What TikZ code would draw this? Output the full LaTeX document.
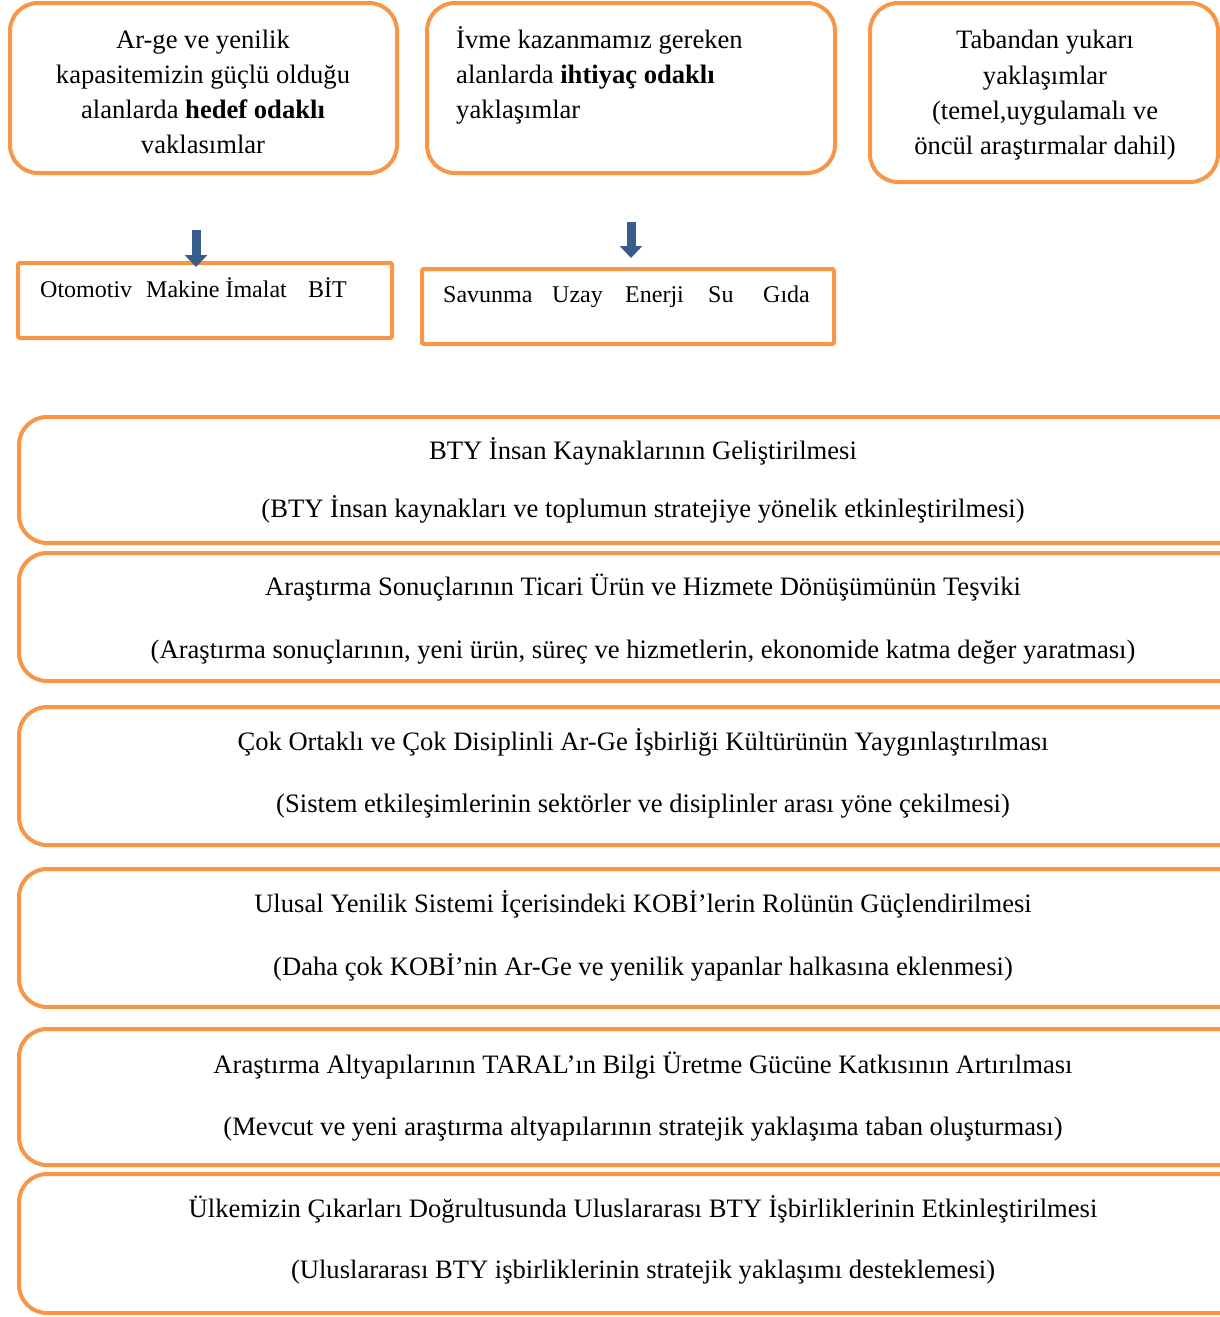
\documentclass[tikz,border=0pt]{standalone}
\usepackage{fontspec}
\setmainfont{Liberation Serif}
\usetikzlibrary{arrows.meta}
\definecolor{boxorange}{HTML}{F79646}
\definecolor{arrowblue}{HTML}{385D8A}
\begin{document}
\begin{tikzpicture}[x=1pt,y=-1pt,
  rbox/.style={draw=boxorange, line width=4pt, rounded corners=28pt, inner sep=0pt, outer sep=0pt, anchor=north west},
  sbox/.style={draw=boxorange, line width=4pt, rounded corners=2pt, inner sep=0pt, outer sep=0pt, anchor=north west},
  txt/.style={font=\fontsize{26.6}{35}\selectfont, inner sep=0pt, anchor=base},
  ltxt/.style={txt, anchor=base west},
  stxt/.style={font=\fontsize{24}{30}\selectfont, inner sep=0pt, anchor=base west},
  blockarrow/.style={line width=9pt, draw=arrowblue, -{Triangle[width=22pt,length=12pt]}}
]
\useasboundingbox (0,0) rectangle (1220,1317);

% top boxes
\node[rbox, minimum width=387pt, minimum height=170pt] (b1) at (10,3) {};
\node[rbox, minimum width=408pt, minimum height=170pt] (b2) at (427,3) {};
\node[rbox, minimum width=348pt, minimum height=179pt] (b3) at (870,3) {};

\node[txt] (t1a) at (203,48) {Ar-ge ve yenilik};
\node[txt] (t1b) at (203,83) {kapasitemizin güçlü olduğu};
\node[txt] (t1c) at (203,118) {alanlarda \textbf{hedef odaklı}};
\node[txt] (t1d) at (203,153) {vaklasımlar};

\node[ltxt] (t2a) at (456,48) {İvme kazanmamız gereken};
\node[ltxt] (t2b) at (456,83) {alanlarda \textbf{ihtiyaç odaklı}};
\node[ltxt] (t2c) at (456,118) {yaklaşımlar};

\node[txt] (t3a) at (1045,48) {Tabandan yukarı};
\node[txt] (t3b) at (1045,84) {yaklaşımlar};
\node[txt] (t3c) at (1045,119) {(temel,uygulamalı ve};
\node[txt] (t3d) at (1045,154) {öncül araştırmalar dahil)};

% sector boxes
\node[sbox, minimum width=374pt, minimum height=75pt] (b4) at (18,263) {};
\node[sbox, minimum width=412pt, minimum height=75pt] (b5) at (422,269) {};

\node[stxt] (s1) at (40,297) {Otomotiv};
\node[stxt] (s2) at (146,297) {Makine İmalat};
\node[stxt] (s3) at (308,297) {BİT};

\node[stxt] (s4) at (443,302) {Savunma};
\node[stxt] (s5) at (552,302) {Uzay};
\node[stxt] (s6) at (625,302) {Enerji};
\node[stxt] (s7) at (708,302) {Su};
\node[stxt] (s8) at (763,302) {Gıda};

% arrows
\coordinate (a1s) at (196,230);
\coordinate (a2s) at (631,222);
\draw[blockarrow, shorten >=-4pt] (a1s) -- (a1s |- b4.north);
\draw[blockarrow, shorten >=11pt] (a2s) -- (a2s |- b5.north);

% wide boxes
\node[rbox, minimum width=1250pt, minimum height=126pt] (w1) at (19,417) {};
\node[rbox, minimum width=1250pt, minimum height=128pt] (w2) at (19,553) {};
\node[rbox, minimum width=1250pt, minimum height=138pt] (w3) at (19,707) {};
\node[rbox, minimum width=1250pt, minimum height=138pt] (w4) at (19,869) {};
\node[rbox, minimum width=1250pt, minimum height=136pt] (w5) at (19,1029) {};
\node[rbox, minimum width=1250pt, minimum height=139pt] (w6) at (19,1174) {};

\node[txt] (w1a) at (643,459) {BTY İnsan Kaynaklarının Geliştirilmesi};
\node[txt] (w1b) at (643,517) {(BTY İnsan kaynakları ve toplumun stratejiye yönelik etkinleştirilmesi)};
\node[txt] (w2a) at (643,595) {Araştırma Sonuçlarının Ticari Ürün ve Hizmete Dönüşümünün Teşviki};
\node[txt] (w2b) at (643,658) {(Araştırma sonuçlarının, yeni ürün, süreç ve hizmetlerin, ekonomide katma değer yaratması)};
\node[txt] (w3a) at (643,750) {Çok Ortaklı ve Çok Disiplinli Ar-Ge İşbirliği Kültürünün Yaygınlaştırılması};
\node[txt] (w3b) at (643,812) {(Sistem etkileşimlerinin sektörler ve disiplinler arası yöne çekilmesi)};
\node[txt] (w4a) at (643,912) {Ulusal Yenilik Sistemi İçerisindeki KOBİ’lerin Rolünün Güçlendirilmesi};
\node[txt] (w4b) at (643,975) {(Daha çok KOBİ’nin Ar-Ge ve yenilik yapanlar halkasına eklenmesi)};
\node[txt] (w5a) at (643,1073) {Araştırma Altyapılarının TARAL’ın Bilgi Üretme Gücüne Katkısının Artırılması};
\node[txt] (w5b) at (643,1135) {(Mevcut ve yeni araştırma altyapılarının stratejik yaklaşıma taban oluşturması)};
\node[txt] (w6a) at (643,1217) {Ülkemizin Çıkarları Doğrultusunda Uluslararası BTY İşbirliklerinin Etkinleştirilmesi};
\node[txt] (w6b) at (643,1278) {(Uluslararası BTY işbirliklerinin stratejik yaklaşımı desteklemesi)};
\end{tikzpicture}
\end{document}
